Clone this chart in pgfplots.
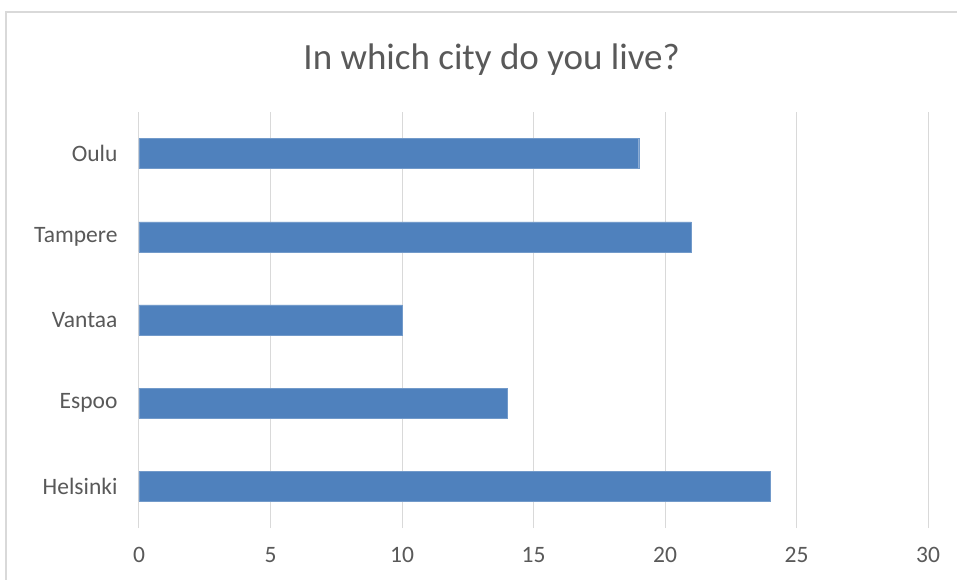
\documentclass[border=0pt]{standalone}
\usepackage{pgfplots}
\pgfplotsset{compat=1.18}
\usepackage{fontspec}
\setmainfont{Carlito}
\definecolor{barblue}{HTML}{4F81BD}
\definecolor{gridgray}{HTML}{D9D9D9}
\definecolor{txtgray}{HTML}{595959}
\begin{document}
\begin{tikzpicture}[x=1pt,y=1pt]
\useasboundingbox[fill=white] (-139,-52) rectangle (818,528);
\draw[gridgray, line width=1.5pt] (-133,-52) -- (-133,516) -- (818,516);
\begin{axis}[
  at={(0,0)}, anchor=south west,
  scale only axis,
  width=789pt, height=416pt,
  xmin=0, xmax=30,
  ymin=-0.5, ymax=4.5,
  xtick={0,5,...,30},
  ytick={0,1,2,3,4},
  yticklabels={Helsinki,Espoo,Vantaa,Tampere,Oulu},
  axis line style={draw=none},
  major tick length=0pt,
  xmajorgrids,
  grid style={gridgray, line width=1pt},
  tick label style={font=\fontsize{23.5}{26}\selectfont, text=txtgray},
  /pgf/number format/assume math mode=true,
  xticklabel style={yshift=-16pt},
  yticklabel style={xshift=-18pt},
  xbar, bar width=30pt,
  title={In which city do you live?},
  title style={font=\fontsize{37}{40}\selectfont, text=txtgray, at={(axis description cs:0.447,1)}, yshift=27pt},
]
\addplot[fill=barblue, draw=barblue!80!white] coordinates {(24,0) (14,1) (10,2) (21,3) (19,4)};
\end{axis}
\end{tikzpicture}
\end{document}
